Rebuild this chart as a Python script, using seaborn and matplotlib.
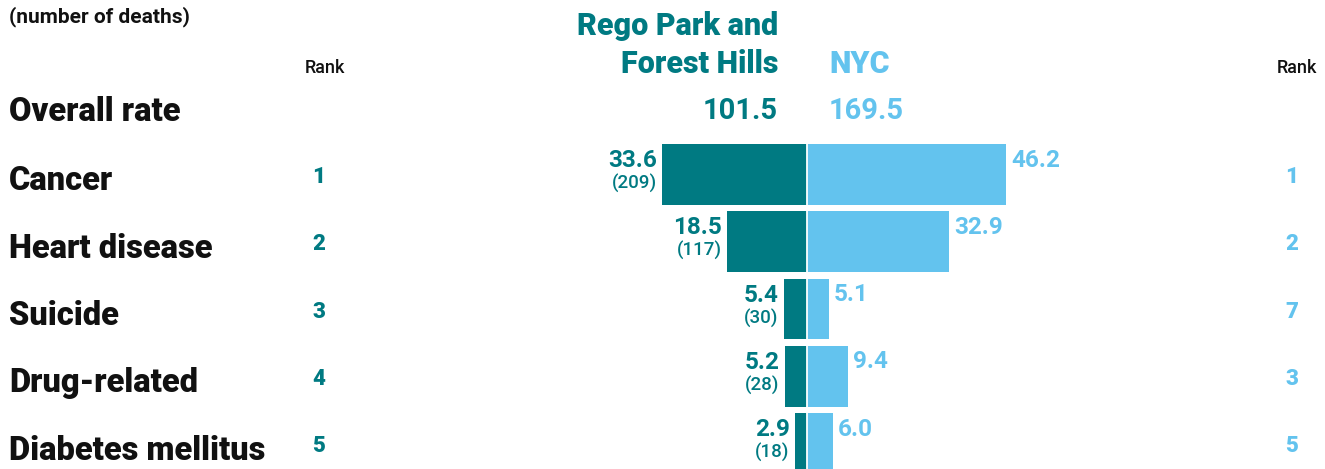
import matplotlib
matplotlib.use("Agg")
import matplotlib.pyplot as plt
import matplotlib.transforms as mtransforms
import seaborn as sns
import pandas as pd

# Death rates by cause: Rego Park and Forest Hills vs. New York City
causes = ["Cancer", "Heart disease", "Suicide", "Drug-related", "Diabetes mellitus"]
local_rates = [33.6, 18.5, 5.4, 5.2, 2.9]
local_deaths = [209, 117, 30, 28, 18]
local_ranks = [1, 2, 3, 4, 5]
nyc_rates = [46.2, 32.9, 5.1, 9.4, 6.0]
nyc_ranks = [1, 2, 7, 3, 5]
overall_local = 101.5
overall_nyc = 169.5
local_name = ["Rego Park and", "Forest Hills"]
nyc_name = "NYC"

TEAL = "#007a82"
BLUE = "#63c3ee"
INK = "#111111"

W, H = 1325, 469
fig = plt.figure(figsize=(W / 100, H / 100), dpi=100)
ax = fig.add_axes([0, 0, 1, 1])

df = pd.DataFrame({
    "cause": causes,
    "local": [-v for v in local_rates],
    "nyc": nyc_rates,
})

sns.barplot(data=df, x="local", y="cause", orient="h", color=TEAL,
            width=0.905, saturation=1, ax=ax)
sns.barplot(data=df, x="nyc", y="cause", orient="h", color=BLUE,
            width=0.905, saturation=1, ax=ax)

# scale: ~4.31 px per unit, zero line at x=807 px
PX = 4.31
X0 = 807
ax.set_xlim(-X0 / PX, (W - X0) / PX)
PITCH = 67.25
Y0 = 174.5
ax.set_ylim((H - Y0) / PITCH, -Y0 / PITCH)
ax.axvline(0, color="white", lw=1.3, zorder=5)
ax.axis("off")

LABEL_FONT = ["Roboto", "DejaVu Sans"]
NUM_FONT = ["Roboto", "DejaVu Sans"]

bt = mtransforms.blended_transform_factory(ax.transAxes, ax.transData)


def fx(px):
    return px / W


def fy(px):
    return 1 - px / H


def offset(dy_px, dx_px=0):
    return mtransforms.offset_copy(bt, fig=fig, x=dx_px * 0.72, y=-dy_px * 0.72, units="points")


# top notes and column headers
fig.text(fx(9), fy(22), "(number of deaths)", ha="left", va="baseline",
         fontsize=15, fontweight="bold", family=NUM_FONT, color=INK)
for xpx in (325, 1297):
    fig.text(fx(xpx), fy(68), "Rank", ha="center", va="center",
             fontsize=13, family=NUM_FONT, fontweight="medium", color=INK)

for line, base in zip(local_name, (35, 72.7)):
    fig.text(fx(778), fy(base), line, ha="right", va="baseline",
             fontsize=22, fontweight="black", family=LABEL_FONT, color=TEAL)
fig.text(fx(829), fy(72.7), nyc_name, ha="left", va="baseline",
         fontsize=22, fontweight="black", family=LABEL_FONT, color=BLUE)

fig.text(fx(9), fy(121), "Overall rate", ha="left", va="baseline",
         fontsize=23.5, fontweight="black", family=LABEL_FONT, color=INK)
fig.text(fx(778), fy(119.3), f"{overall_local:.1f}", ha="right", va="baseline",
         fontsize=21, fontweight="bold", family=NUM_FONT, color=TEAL)
fig.text(fx(829), fy(119.3), f"{overall_nyc:.1f}", ha="left", va="baseline",
         fontsize=21, fontweight="bold", family=NUM_FONT, color=BLUE)

for i, cause in enumerate(causes):
    # category label and ranks
    ax.text(fx(9), i, cause, transform=offset(16), ha="left", va="baseline",
            fontsize=23.5, fontweight="black", family=LABEL_FONT, color=INK)
    ax.text(fx(319), i, str(local_ranks[i]), transform=offset(2.5), ha="center",
            va="center", fontsize=16, fontweight="black", family=NUM_FONT, color=TEAL)
    ax.text(fx(1292), i, str(nyc_ranks[i]), transform=offset(2.5), ha="center",
            va="center", fontsize=16, fontweight="black", family=NUM_FONT, color=BLUE)

    # value labels beside the bars
    ax.annotate(f"{local_rates[i]:.1f}", xy=(-local_rates[i], i), xytext=(-3.6, 10),
                textcoords="offset points", ha="right", va="center",
                fontsize=17.5, fontweight="bold", family=NUM_FONT, color=TEAL)
    ax.annotate(f"({local_deaths[i]})", xy=(-local_rates[i], i), xytext=(-3.6, -6.5),
                textcoords="offset points", ha="right", va="center",
                fontsize=13.5, fontweight="medium", family=NUM_FONT, color=TEAL)
    ax.annotate(f"{nyc_rates[i]:.1f}", xy=(nyc_rates[i], i), xytext=(3.6, 10.3),
                textcoords="offset points", ha="left", va="center",
                fontsize=17.5, fontweight="bold", family=NUM_FONT, color=BLUE)

fig.savefig("out.png", dpi=100, facecolor="white")
